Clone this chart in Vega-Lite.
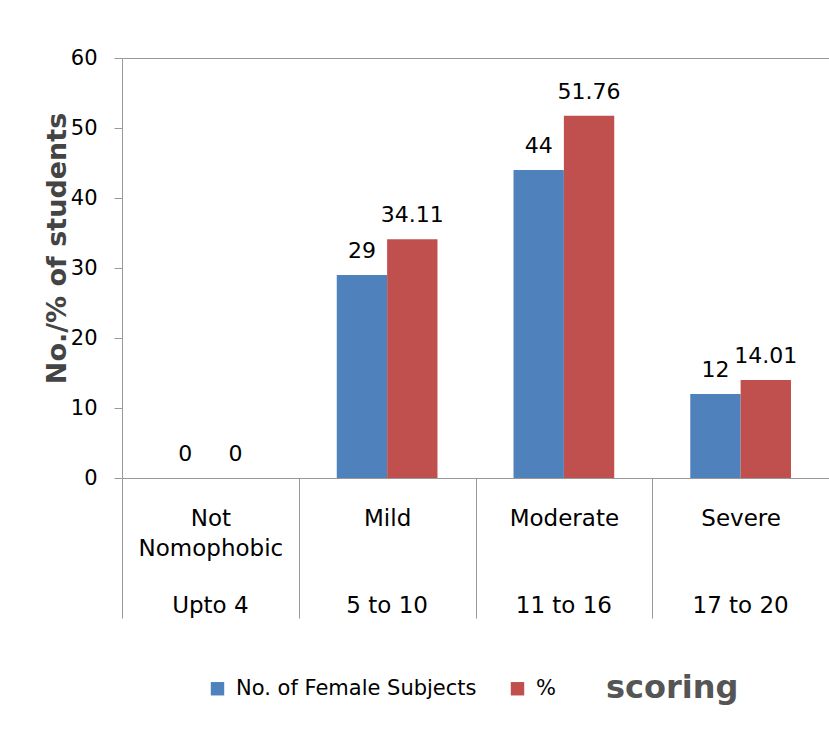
{
  "$schema": "https://vega.github.io/schema/vega-lite/v6.json",
  "width": 707,
  "height": 420,
  "autosize": "none",
  "padding": {"left": 122, "top": 58, "right": 0, "bottom": 262},
  "background": "white",
  "config": {"view": {"stroke": null}, "font": "DejaVu Sans"},
  "data": {
    "values": [
      {"cat": "Not Nomophobic", "score": "Upto 4", "series": "No. of Female Subjects", "value": 0},
      {"cat": "Not Nomophobic", "score": "Upto 4", "series": "%", "value": 0},
      {"cat": "Mild", "score": "5 to 10", "series": "No. of Female Subjects", "value": 29},
      {"cat": "Mild", "score": "5 to 10", "series": "%", "value": 34.11},
      {"cat": "Moderate", "score": "11 to 16", "series": "No. of Female Subjects", "value": 44},
      {"cat": "Moderate", "score": "11 to 16", "series": "%", "value": 51.76},
      {"cat": "Severe", "score": "17 to 20", "series": "No. of Female Subjects", "value": 12},
      {"cat": "Severe", "score": "17 to 20", "series": "%", "value": 14.01}
    ]
  },
  "encoding": {
    "xOffset": {
      "field": "series",
      "type": "nominal",
      "sort": ["No. of Female Subjects", "%"],
      "scale": {"paddingInner": 0, "paddingOuter": 0.755}
    },
    "y": {
      "field": "value",
      "type": "quantitative",
      "scale": {"domain": [0, 60], "nice": false},
      "axis": {
        "values": [0, 10, 20, 30, 40, 50, 60],
        "title": "No./% of students",
        "titleFont": "DejaVu Sans",
        "titleFontSize": 27,
        "titleFontWeight": "bold",
        "titleColor": "#444444",
        "titleAngle": -90,
        "titleX": -65,
        "titleY": 190,
        "titleAlign": "center",
        "titleBaseline": "middle",
        "domainColor": "#999999",
        "tickColor": "#999999",
        "tickSize": 8,
        "labelFontSize": 21,
        "labelFont": "DejaVu Sans",
        "labelColor": "#000000",
        "labelPadding": 17,
        "grid": true,
        "gridColor": "#999999",
        "gridOpacity": {"condition": {"test": "datum.value === 60", "value": 1}, "value": 0}
      }
    }
  },
  "resolve": {"axis": {"x": "independent"}},
  "layer": [
    {
      "mark": {"type": "bar"},
      "encoding": {
        "x": {
          "field": "cat",
          "type": "nominal",
          "sort": ["Not Nomophobic", "Mild", "Moderate", "Severe"],
          "scale": {"paddingInner": 0, "paddingOuter": 0},
          "axis": {
            "orient": "bottom",
            "title": null,
            "domainColor": "#999999",
            "tickColor": "#999999",
            "tickBand": "extent",
            "tickSize": 140,
            "labelPadding": -111,
            "labelFontSize": 23,
            "labelFont": "DejaVu Sans",
            "labelColor": "#000000",
            "labelLineHeight": 30,
            "labelBaseline": "top",
            "labelAngle": 0,
            "labelLimit": 300,
            "labelOverlap": false,
            "labelExpr": "datum.value == 'Not Nomophobic' ? ['Not', 'Nomophobic'] : datum.value == 'Mild' || datum.value == 'Moderate' || datum.value == 'Severe' ? datum.value : ''"
          }
        },
        "color": {
          "field": "series",
          "type": "nominal",
          "scale": {"domain": ["No. of Female Subjects", "%"], "range": ["#4F81BD", "#C0504D"]},
          "legend": {
            "orient": "none",
            "legendX": 85,
            "legendY": 620,
            "direction": "horizontal",
            "title": "scoring",
            "titleOrient": "right",
            "titleFont": "DejaVu Sans",
            "titleFontSize": 32,
            "titleFontWeight": "bold",
            "titleColor": "#555555",
            "titlePadding": 50,
            "labelFontSize": 21,
            "labelFont": "DejaVu Sans",
            "labelColor": "#000000",
            "labelLimit": 400,
            "symbolType": "square",
            "symbolSize": 180,
            "symbolStrokeWidth": 0,
            "labelOffset": 8,
            "columnPadding": 30
          }
        }
      }
    },
    {
      "mark": {"type": "text", "dy": -17, "fontSize": 22, "font": "DejaVu Sans", "color": "#000000", "baseline": "alphabetic"},
      "encoding": {
        "x": {
          "field": "cat",
          "type": "nominal",
          "sort": ["Not Nomophobic", "Mild", "Moderate", "Severe"],
          "scale": {"paddingInner": 0, "paddingOuter": 0},
          "axis": {
            "orient": "bottom",
            "title": null,
            "domain": false,
            "ticks": false,
            "grid": false,
            "labelPadding": 116,
            "labelFontSize": 23,
            "labelFont": "DejaVu Sans",
            "labelColor": "#000000",
            "labelBaseline": "top",
            "labelAngle": 0,
            "labelLimit": 300,
            "labelOverlap": false,
            "labelExpr": "datum.value == 'Not Nomophobic' ? 'Upto 4' : datum.value == 'Mild' ? '5 to 10' : datum.value == 'Moderate' ? '11 to 16' : datum.value == 'Severe' ? '17 to 20' : ''"
          }
        },
        "text": {"field": "value", "type": "quantitative"}
      }
    }
  ]
}
